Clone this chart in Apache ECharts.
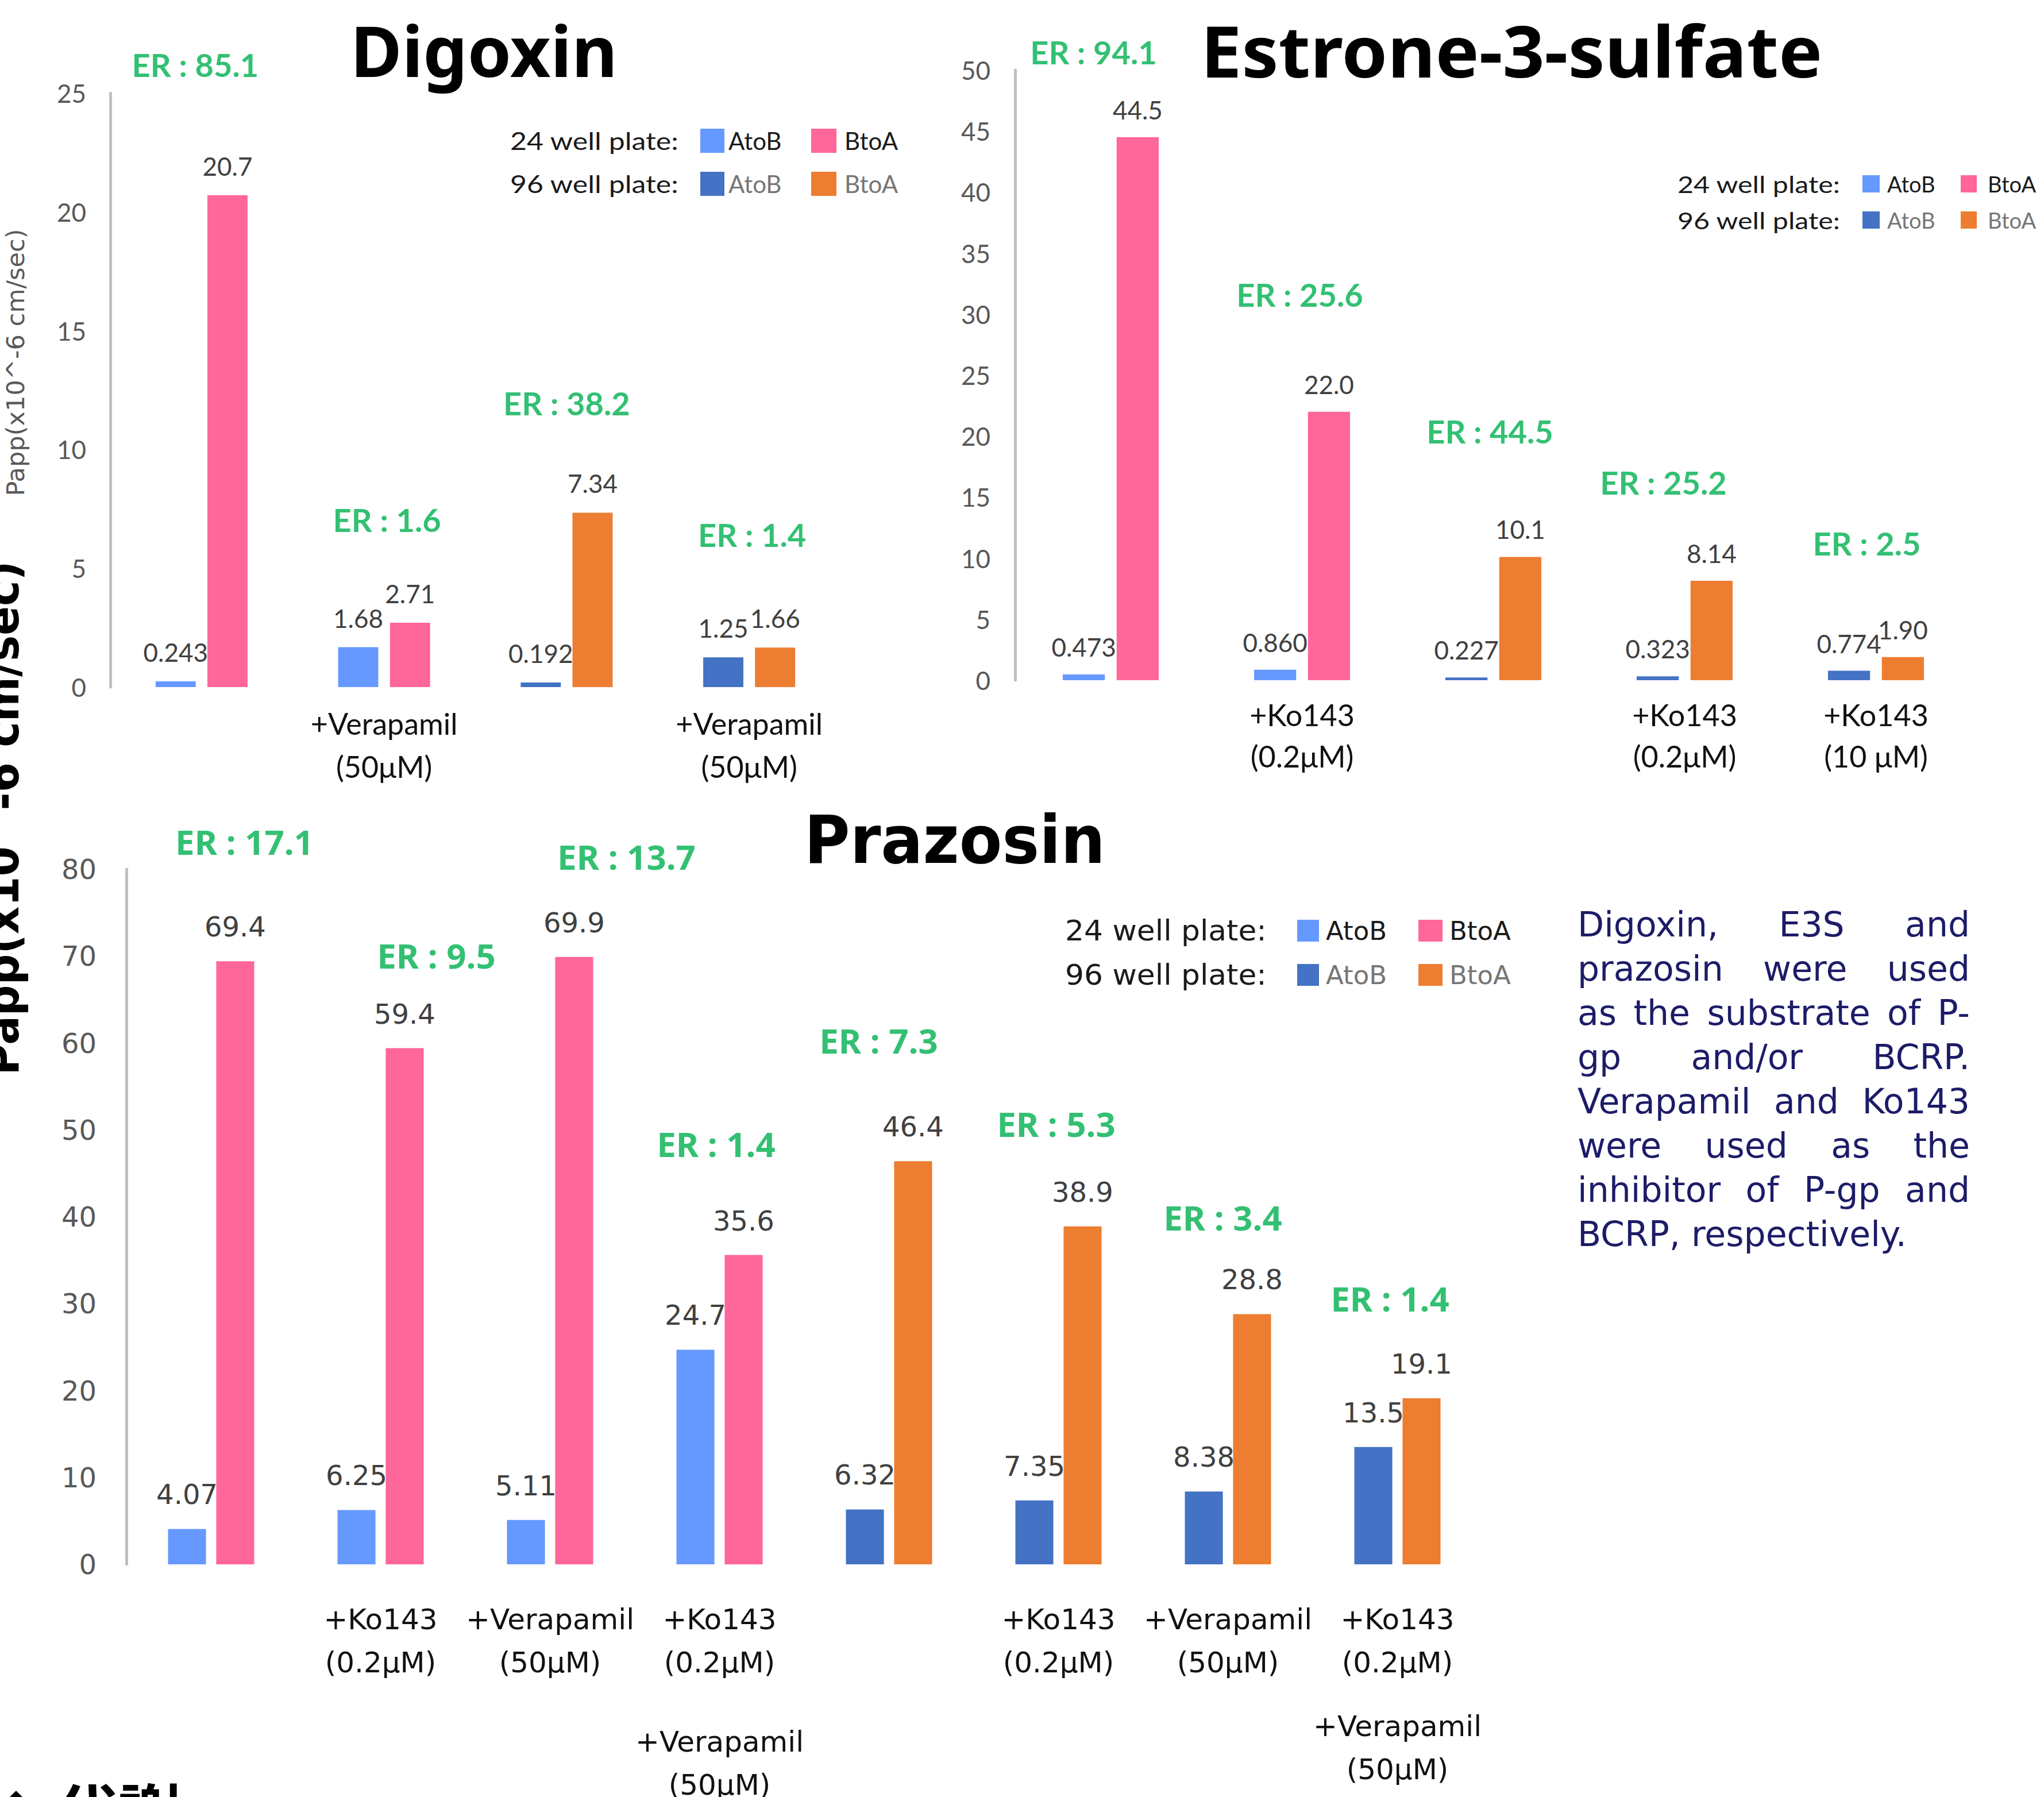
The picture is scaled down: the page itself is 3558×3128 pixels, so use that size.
<!DOCTYPE html>
<html>
<head>
<meta charset="utf-8">
<script src="https://cdn.jsdelivr.net/npm/echarts@6/dist/echarts.min.js"></script>
<style>
html, body { margin: 0; padding: 0; background: #ffffff; }
#main { width: 3558px; height: 3128px; }
</style>
</head>
<body>
<div id="main"></div>
<script>
// ---------------- Data ----------------
// Digoxin (Papp x10^-6 cm/sec)
const digCategories = ['', '+Verapamil\n(50μM)', '', '+Verapamil\n(50μM)'];
const digPlate = [24, 24, 96, 96];
const digAtoB = [0.243, 1.68, 0.192, 1.25];
const digBtoA = [20.7, 2.71, 7.34, 1.66];
const digER = [85.1, 1.6, 38.2, 1.4];
const digAxis = { max: 25, step: 5 };

// Estrone-3-sulfate
const e3sCategories = ['', '+Ko143\n(0.2μM)', '', '+Ko143\n(0.2μM)', '+Ko143\n(10 μM)'];
const e3sPlate = [24, 24, 96, 96, 96];
const e3sAtoB = [0.473, 0.860, 0.227, 0.323, 0.774];
const e3sBtoA = [44.5, 22.0, 10.1, 8.14, 1.90];
const e3sER = [94.1, 25.6, 44.5, 25.2, 2.5];
const e3sAxis = { max: 50, step: 5 };

// Prazosin
const prazCategories = ['', '+Ko143\n(0.2μM)', '+Verapamil\n(50μM)', '+Ko143\n(0.2μM)\n+Verapamil\n(50μM)',
                        '', '+Ko143\n(0.2μM)', '+Verapamil\n(50μM)', '+Ko143\n(0.2μM)\n+Verapamil\n(50μM)'];
const prazPlate = [24, 24, 24, 24, 96, 96, 96, 96];
const prazAtoB = [4.07, 6.25, 5.11, 24.7, 6.32, 7.35, 8.38, 13.5];
const prazBtoA = [69.4, 59.4, 69.9, 35.6, 46.4, 38.9, 28.8, 19.1];
const prazER = [17.1, 9.5, 13.7, 1.4, 7.3, 5.3, 3.4, 1.4];
const prazAxis = { max: 80, step: 10 };

const legendRows = ['24 well plate:', '96 well plate:'];
const legendItems = ['AtoB', 'BtoA'];
const axisTitle = 'Papp(x10^-6 cm/sec)';
const noteLines = ['Digoxin, E3S and', 'prazosin were used', 'as the substrate of P-', 'gp and/or BCRP.',
                   'Verapamil and Ko143', 'were used as the', 'inhibitor of P-gp and', 'BCRP, respectively.'];

// ---------------- Layout / style ----------------
const C = {
  a24: '#6699FF', b24: '#FF6699', a96: '#4472C4', b96: '#ED7D31',
  er: '#00B050', val: '#404040', tick: '#595959', axis: '#BFBFBF', cat: '#111111', note: '#1C1C68'
};
const LATO = 'Lato';
const DEJA = 'DejaVu Sans';
const NOTO = 'Noto Sans';

// ER label offsets (px) from the top of the BtoA bar in each group
const digErOffset = [[-11, -227], [5, -179], [0, -191], [5, -197]];
const e3sErOffset = [[-30, -148], [-4, -204], [-6, -219], [-37, -172], [-16, -198]];
const prazErOffset = [[58, -208], [97, -162], [133, -175], [-6, -194], [-18, -210], [-4, -179], [-9, -168], [-13, -174]];
// extra gap before the second inhibitor line in combined-inhibitor groups
const prazLabelGap = [0, 0, 0, 63, 0, 0, 0, 36];

const panels = [
  {
    cats: digCategories, plate: digPlate, atob: digAtoB, btoa: digBtoA, er: digER, erOff: digErOffset, axis: digAxis,
    grid: { left: 192, top: 162, width: 1271, height: 1034 },
    tick: { family: LATO, size: 44, margin: 42 },
    val: { family: LATO, size: 44, dist: 29 },
    erFont: { family: LATO, size: 56 },
    cat: { family: LATO, size: 52, lh: 75, margin: 25 },
    barWidth: '22%', barGap: '29%'
  },
  {
    cats: e3sCategories, plate: e3sPlate, atob: e3sAtoB, btoa: e3sBtoA, er: e3sER, erOff: e3sErOffset, axis: e3sAxis,
    grid: { left: 1767, top: 122, width: 1665, height: 1062 },
    tick: { family: LATO, size: 44, margin: 43 },
    val: { family: LATO, size: 44, dist: 26 },
    erFont: { family: LATO, size: 56 },
    cat: { family: LATO, size: 52, lh: 72, margin: 24 },
    barWidth: '22%', barGap: '28%'
  },
  {
    cats: prazCategories, plate: prazPlate, atob: prazAtoB, btoa: prazBtoA, er: prazER, erOff: prazErOffset, axis: prazAxis,
    grid: { left: 220, top: 1513, width: 2360, height: 1210 },
    tick: { family: DEJA, size: 48, margin: 52 },
    val: { family: DEJA, size: 48, dist: 36 },
    erFont: { family: NOTO, size: 60 },
    cat: { family: DEJA, size: 50, lh: 75, margin: 58 },
    barWidth: '22.4%', barGap: '27%',
    gaps: prazLabelGap
  }
];

// ---------------- Helpers ----------------
const mctx = document.createElement('canvas').getContext('2d');
function textWidth(str, font) { mctx.font = font; return mctx.measureText(str).width; }
function fontStr(weight, size, family) { return weight + ' ' + size + 'px "' + family + '"'; }

function textEl(o) {
  return {
    type: 'text', x: o.x, y: o.y, rotation: o.rotation || 0, scaleX: o.scaleX || 1, z: o.z || 10, silent: true,
    style: {
      text: o.text, font: o.font, fill: o.color,
      align: o.align || 'left', textAlign: o.align || 'left',
      verticalAlign: 'middle', textVerticalAlign: 'middle'
    }
  };
}
// text stretched/condensed to an exact length
function fittedText(o) {
  const w = textWidth(o.text, o.font);
  return textEl(Object.assign({}, o, { scaleX: o.width / w }));
}

// ---------------- Build option ----------------
const grids = [], xAxes = [], yAxes = [], series = [];

panels.forEach((p, k) => {
  grids.push(Object.assign({ containLabel: false, outerBoundsMode: 'none' }, p.grid));

  const axisLabel = {
    interval: 0, color: C.cat, fontFamily: p.cat.family, fontSize: p.cat.size,
    lineHeight: p.cat.lh, margin: p.cat.margin
  };
  if (p.gaps) {
    const rich = { t: { fontFamily: p.cat.family, fontSize: p.cat.size, lineHeight: p.cat.lh, color: C.cat } };
    p.gaps.forEach((g, i) => { if (g) rich['sp' + i] = { fontSize: 2, lineHeight: g }; });
    axisLabel.rich = rich;
    axisLabel.formatter = (val, idx) => {
      if (!val) return '';
      const lines = val.split('\n').map(l => '{t|' + l + '}');
      if (lines.length > 2 && p.gaps[idx]) lines.splice(2, 0, '{sp' + idx + '|\u00a0}');
      return lines.join('\n');
    };
  }
  xAxes.push({
    type: 'category', gridIndex: k, data: p.cats,
    axisLine: { show: false }, axisTick: { show: false }, splitLine: { show: false },
    axisLabel: axisLabel
  });
  yAxes.push({
    type: 'value', gridIndex: k, min: 0, max: p.axis.max, interval: p.axis.step,
    axisLine: { show: true, lineStyle: { color: C.axis, width: 5 } },
    axisTick: { show: false }, splitLine: { show: false },
    axisLabel: { color: C.tick, fontFamily: p.tick.family, fontSize: p.tick.size, margin: p.tick.margin }
  });

  const valLabel = {
    show: true, position: 'top', distance: p.val.dist, color: C.val,
    fontFamily: p.val.family, fontSize: p.val.size,
    formatter: q => Number(q.value).toPrecision(3)
  };
  series.push({
    name: 'AtoB', type: 'bar', xAxisIndex: k, yAxisIndex: k,
    barWidth: p.barWidth, barGap: p.barGap,
    data: p.atob.map((v, i) => ({ value: v, itemStyle: { color: p.plate[i] === 24 ? C.a24 : C.a96 } })),
    label: valLabel
  });
  series.push({
    name: 'BtoA', type: 'bar', xAxisIndex: k, yAxisIndex: k,
    barWidth: p.barWidth, barGap: p.barGap,
    data: p.btoa.map((v, i) => ({ value: v, itemStyle: { color: p.plate[i] === 24 ? C.b24 : C.b96 } })),
    label: valLabel
  });
  // efflux ratio, anchored on each BtoA bar
  series.push({
    name: 'ER', type: 'scatter', xAxisIndex: k, yAxisIndex: k, silent: true, z: 5,
    symbolSize: 1, itemStyle: { color: 'rgba(0,0,0,0)' },
    data: p.btoa.map((v, i) => ({ value: [i, v], label: { offset: p.erOff[i] } })),
    label: {
      show: true, position: 'inside', align: 'center', verticalAlign: 'middle',
      color: C.er, textBorderWidth: 0, fontFamily: p.erFont.family, fontWeight: 'bold', fontSize: p.erFont.size,
      formatter: q => 'ER : ' + p.er[q.dataIndex].toFixed(1)
    }
  });
});

// ---------------- Graphics: titles, legends, notes ----------------
const elements = [];

elements.push(fittedText({ text: 'Digoxin', x: 610, y: 87, font: fontStr('bold', 122, NOTO), color: '#000', width: 465 }));
elements.push(fittedText({ text: 'Estrone-3-sulfate', x: 2090, y: 87, font: fontStr('bold', 124, NOTO), color: '#000', width: 1082 }));
elements.push(fittedText({ text: 'Prazosin', x: 1400, y: 1462, font: fontStr('bold', 116, DEJA), color: '#000', width: 524 }));

const legends = [
  { labelRight: 1182, labelWidth: 294, labelFont: fontStr('normal', 42, LATO), itemFont: fontStr('normal', 42, LATO),
    rowY: [245, 320], sqX: [1219, 1412], sqW: [42, 44], sqH: 42, txtX: [1268, 1470] },
  { labelRight: 3204, labelWidth: 284, labelFont: fontStr('normal', 40, LATO), itemFont: fontStr('normal', 38, LATO),
    rowY: [320, 383], sqX: [3242, 3413], sqW: [30, 28], sqH: 30, txtX: [3285, 3460] },
  { labelRight: 2205, labelWidth: 351, labelFont: fontStr('normal', 50, DEJA), itemFont: fontStr('normal', 45, DEJA),
    rowY: [1620, 1697], sqX: [2258, 2469], sqW: [38, 42], sqH: 38, txtX: [2308, 2523] }
];
const legendColors = [[C.a24, C.b24], [C.a96, C.b96]];
const legendTextColors = ['#1a1a1a', '#767676'];
legends.forEach(L => {
  legendRows.forEach((row, r) => {
    const y = L.rowY[r];
    elements.push(fittedText({ text: row, x: L.labelRight - L.labelWidth, y: y, font: L.labelFont, color: '#1a1a1a', width: L.labelWidth }));
    legendItems.forEach((item, j) => {
      elements.push({
        type: 'rect', z: 10, silent: true,
        shape: { x: L.sqX[j], y: y - L.sqH / 2, width: L.sqW[j], height: L.sqH },
        style: { fill: legendColors[r][j] }
      });
      elements.push(textEl({ text: item, x: L.txtX[j], y: y, font: L.itemFont, color: legendTextColors[r] }));
    });
  });
});

// small axis title of the Digoxin panel
elements.push(fittedText({ text: axisTitle, x: 27, y: 631, rotation: Math.PI / 2, align: 'center',
  font: fontStr('normal', 42, DEJA), color: C.tick, width: 465 }));
// large bold axis title along the left edge
elements.push(fittedText({ text: axisTitle, x: 4, y: 1424, rotation: Math.PI / 2, align: 'center', z: 50,
  font: fontStr('bold', 80, DEJA), color: '#000', width: 896 }));

// justified note text
const note = { left: 2746, right: 3429, top: 1609, lh: 77, font: fontStr('normal', 60, DEJA) };
noteLines.forEach((line, li) => {
  const y = note.top + li * note.lh;
  const words = line.split(' ');
  if (li === noteLines.length - 1 || words.length < 2) {
    elements.push(textEl({ text: line, x: note.left, y: y, font: note.font, color: C.note }));
    return;
  }
  const widths = words.map(w => textWidth(w, note.font));
  const total = widths.reduce((a, b) => a + b, 0);
  const gap = (note.right - note.left - total) / (words.length - 1);
  let x = note.left;
  words.forEach((w, i) => {
    elements.push(textEl({ text: w, x: x, y: y, font: note.font, color: C.note }));
    x += widths[i] + gap;
  });
});

// section heading at the bottom edge
elements.push(textEl({ text: '◆', x: 28, y: 3158, align: 'center', font: fontStr('bold', 96, 'Noto Sans CJK JP'), color: '#000' }));
elements.push(textEl({ text: '代謝', x: 96, y: 3150, font: fontStr('bold', 110, 'Noto Sans CJK JP'), color: '#000' }));

const option = {
  backgroundColor: '#ffffff',
  animation: false,
  grid: grids,
  xAxis: xAxes,
  yAxis: yAxes,
  series: series,
  graphic: { elements: elements }
};

const chart = echarts.init(document.getElementById('main'), null, { renderer: 'svg', width: 3558, height: 3128 });
chart.setOption(option);
</script>
</body>
</html>
